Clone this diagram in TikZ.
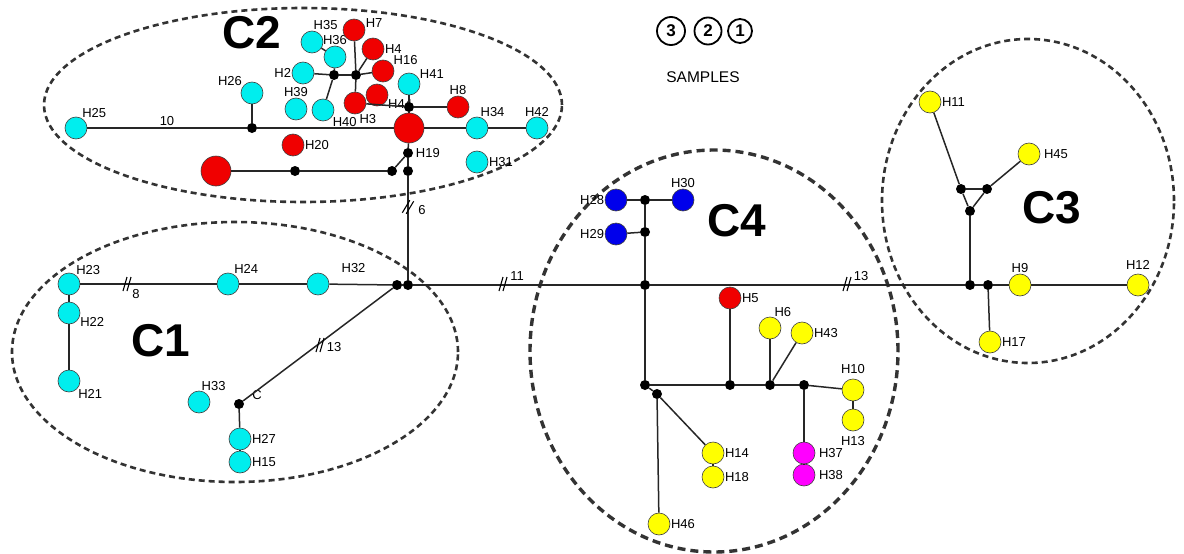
\documentclass[tikz,border=0pt]{standalone}
\usepackage{fontspec}
\setmainfont{Liberation Sans}
\definecolor{hcyan}{RGB}{0,238,238}
\definecolor{hred}{RGB}{240,0,0}
\definecolor{hblue}{RGB}{0,0,235}
\definecolor{hyellow}{RGB}{255,255,0}
\definecolor{hmag}{RGB}{255,0,255}
\begin{document}
\begin{tikzpicture}[x=1pt, y=-1pt,
    every edge/.style={draw=black!85, line width=1.5pt},
    hap/.style={circle, draw=black!75, line width=0.6pt, minimum size=22pt, inner sep=0pt},
    big/.style={hap, minimum size=30pt},
    jn/.style={circle, fill=black, minimum size=10pt, inner sep=0pt},
    lbl/.style={font=\fontsize{13}{13}\selectfont, inner sep=0.5pt},
    elbl/.style={font=\fontsize{13}{13}\selectfont, inner sep=0.5pt},
    grp/.style={draw=black!80, line width=2.6pt, dash pattern=on 6pt off 4pt},
    clu/.style={font=\fontsize{46}{46}\selectfont\bfseries, inner sep=0pt},
    smp/.style={circle, draw=black, line width=1.8pt, inner sep=0pt, font=\fontsize{17}{17}\selectfont\bfseries},
    brk/.pic={\draw[line width=1.1pt] (-4,7) -- (0,-7) (0,7) -- (4,-7);}
    ]
    \useasboundingbox (0,0) rectangle (1184,554);

    % groups
    \draw[grp] (303,105) ellipse [x radius=259pt, y radius=97pt];
    \draw[grp] (235,352) ellipse [x radius=223pt, y radius=130pt];
    \draw[grp] (1028,201) ellipse [x radius=146pt, y radius=162pt];
    \draw[grp, line width=3.4pt, dash pattern=on 8pt off 5pt] (714,351) ellipse [x radius=184pt, y radius=201pt];

    \node [clu] (c2) at (252,33) {C2};
    \node [clu] (c1) at (161,341) {C1};
    \node [clu] (c4) at (737,221) {C4};
    \node [clu] (c3) at (1052,208) {C3};

    % legend
    \node [smp, minimum size=28pt] (s3) at (671,31) {3};
    \node [smp, minimum size=27pt] (s2) at (708,31) {2};
    \node [smp, minimum size=24pt] (s1) at (740,31) {1};
    \node [font=\fontsize{15.5}{16}\selectfont] (smp) at (703,77) {SAMPLES};

    % C2
    \node [hap, fill=hcyan, label={[lbl]60:H25}] (h25) at (76,128) {};
    \node [jn] (j4) at (252,128) {};
    \node [hap, fill=hcyan, label={[lbl]146:H26}] (h26) at (252,93) {};
    \node [hap, fill=hcyan, label={[lbl]85:H35}] (h35) at (312,42) {};
    \node [hap, fill=hcyan, label={[lbl]90:H36}] (h36) at (335,57) {};
    \node [hap, fill=hred, label={[lbl]11:H7}] (h7) at (354,30) {};
    \node [hap, fill=hred, label={[lbl]0:H4}] (h4) at (373,49) {};
    \node [hap, fill=hcyan, label={[lbl]180:H2}] (h2) at (303,73) {};
    \node [jn] (j1) at (334,75) {};
    \node [jn] (j2) at (356,75) {};
    \node [hap, fill=hred, label={[lbl]28:H16}] (h16) at (383,71) {};
    \node [hap, fill=hcyan, label={[lbl]25:H41}] (h41) at (409,84) {};
    \node [hap, fill=hcyan, label={[lbl]90:H39}] (h39) at (296,109) {};
    \node [hap, fill=hcyan, label={[lbl]324:H40}] (h40) at (323,110) {};
    \node [hap, fill=hred, label={[lbl]338:H44}] (h44) at (377,95) {};
    \node [hap, fill=hred, label={[lbl]290:H3}] (h3) at (355,103) {};
    \node [jn] (j3) at (409,107) {};
    \node [hap, fill=hred, label={[lbl]90:H8}] (h8) at (458,107) {};
    \node [big, fill=hred] (r1) at (409,128) {};
    \node [hap, fill=hcyan, label={[lbl]75:H34}] (h34) at (477,128) {};
    \node [hap, fill=hcyan, label={[lbl]90:H42}] (h42) at (537,128) {};
    \node [hap, fill=hred, label={[lbl]0:H20}] (h20) at (293,145) {};
    \node [jn, label={[lbl,label distance=2pt]0:H19}] (j5) at (408,153) {};
    \node [hap, fill=hcyan, label={[lbl]0:H31}] (h31) at (477,162) {};
    \node [big, fill=hred] (r2) at (216,171) {};
    \node [jn] (j6) at (295,171) {};
    \node [jn] (j7) at (392,171) {};
    \node [jn] (j8) at (408,171) {};

    \draw (h25) edge (j4);
    \draw (j4) edge (r1);
    \draw (r1) edge (h34);
    \draw (h34) edge (h42);
    \draw (j4) edge (h26);
    \draw (r1) edge (j3);
    \draw (j3) edge (h41);
    \draw (j3) edge (h8);
    \draw (h3) edge (j3);
    \draw (j2) edge (h3);
    \draw (j2) edge (h7);
    \draw (j2) edge (h4);
    \draw (j2) edge (h16);
    \draw (j1) edge (j2);
    \draw (h2) edge (j1);
    \draw (j1) edge (h40);
    \draw (j1) edge (h36);
    \draw (h36) edge (h35);
    \draw (r1) edge (j5);
    \draw (j5) edge (j8);
    \draw (j5) edge (j7);
    \draw (j7) edge (j6);
    \draw (j6) edge (r2);
    \node [elbl] (m10) at (167,121) {10};

    % C1
    \node [hap, fill=hcyan, label={[lbl]54:H23}] (h23) at (69,284) {};
    \node [hap, fill=hcyan, label={[lbl]340:H22}] (h22) at (69,313) {};
    \node [hap, fill=hcyan, label={[lbl]320:H21}] (h21) at (69,381) {};
    \node [hap, fill=hcyan, label={[lbl]60:H24}] (h24) at (228,284) {};
    \node [hap, fill=hcyan, label={[lbl,label distance=14pt]25:H32}] (h32) at (318,284) {};
    \node [jn] (ja) at (397,285) {};
    \node [jn] (jb) at (408,285) {};
    \node [hap, fill=hcyan, label={[lbl]80:H33}] (h33) at (199,402) {};
    \node [jn, label={[lbl,label distance=8pt]15:C}] (jc) at (239,404) {};
    \node [hap, fill=hcyan, label={[lbl]0:H27}] (h27) at (240,439) {};
    \node [hap, fill=hcyan, label={[lbl]0:H15}] (h15) at (240,462) {};

    \draw (h23) edge (h22);
    \draw (h22) edge (h21);
    \draw (h23) edge (h24);
    \draw (h24) edge (h32);
    \draw (h32) edge (ja);
    \draw (ja) edge (jb);
    \draw (ja) edge (jc);
    \draw (jc) edge (h27);
    \draw (h27) edge (h15);
    \draw (jb) edge (j8);
    \pic at (127,284) {brk};
    \node [elbl] (m8) at (136,294) {8};
    \pic at (320,345) {brk};
    \node [elbl] (m13a) at (334,347) {13};
    \pic [rotate=-15] at (408,207) {brk};
    \node [elbl] (m6) at (422,210) {6};

    % C4
    \node [jn] (j9) at (645,200) {};
    \node [jn] (j10) at (645,232) {};
    \node [jn] (jm4) at (645,285) {};
    \node [hap, fill=hblue, label={[lbl]180:H28}] (h28) at (616,200) {};
    \node [hap, fill=hblue, label={[lbl]90:H30}] (h30) at (683,200) {};
    \node [hap, fill=hblue, label={[lbl]180:H29}] (h29) at (616,234) {};
    \node [hap, fill=hred, label={[lbl]0:H5}] (h5) at (730,298) {};
    \node [hap, fill=hyellow, label={[lbl]70:H6}] (h6) at (770,328) {};
    \node [hap, fill=hyellow, label={[lbl]0:H43}] (h43) at (802,333) {};
    \node [jn] (j11) at (645,385) {};
    \node [jn] (j12) at (657,394) {};
    \node [jn] (j14) at (730,385) {};
    \node [jn] (j15) at (770,385) {};
    \node [jn] (j16) at (804,385) {};
    \node [hap, fill=hyellow, label={[lbl,label distance=4pt]90:H10}] (h10) at (853,390) {};
    \node [hap, fill=hyellow, label={[lbl,label distance=4pt]270:H13}] (h13) at (853,420) {};
    \node [hap, fill=hyellow, label={[lbl]0:H14}] (h14) at (713,453) {};
    \node [hap, fill=hyellow, label={[lbl]0:H18}] (h18) at (713,477) {};
    \node [hap, fill=hmag, label={[lbl,label distance=3pt]0:H37}] (h37) at (804,453) {};
    \node [hap, fill=hmag, label={[lbl,label distance=3pt]0:H38}] (h38) at (804,475) {};
    \node [hap, fill=hyellow, label={[lbl]0:H46}] (h46) at (659,524) {};

    \draw (jb) edge (jm4);
    \draw (h28) edge (j9);
    \draw (j9) edge (h30);
    \draw (h29) edge (j10);
    \draw (j9) edge (j10);
    \draw (j10) edge (jm4);
    \draw (jm4) edge (j11);
    \draw (j11) edge (j14);
    \draw (j14) edge (j15);
    \draw (j15) edge (j16);
    \draw (j16) edge (h10);
    \draw (h10) edge (h13);
    \draw (j14) edge (h5);
    \draw (j15) edge (h6);
    \draw (j15) edge (h43);
    \draw (j16) edge (h37);
    \draw (h37) edge (h38);
    \draw (j11) edge (j12);
    \draw (j12) edge (h14);
    \draw (h14) edge (h18);
    \draw (j12) edge (h46);
    \pic at (503,284) {brk};
    \node [elbl] (m11) at (517,276) {11};

    % C3
    \node [hap, fill=hyellow, label={[lbl]0:H11}] (h11) at (930,102) {};
    \node [hap, fill=hyellow, label={[lbl,label distance=3pt]0:H45}] (h45) at (1029,154) {};
    \node [jn] (t1) at (961,189) {};
    \node [jn] (t2) at (987,189) {};
    \node [jn] (t3) at (970,211) {};
    \node [jn] (jm3) at (970,285) {};
    \node [jn] (jd) at (988,285) {};
    \node [hap, fill=hyellow, label={[lbl]90:H9}] (h9) at (1020,285) {};
    \node [hap, fill=hyellow, label={[lbl,label distance=4pt]90:H12}] (h12) at (1138,285) {};
    \node [hap, fill=hyellow, label={[lbl]0:H17}] (h17) at (990,342) {};

    \draw (jm4) edge (jm3);
    \draw (jm3) edge (jd);
    \draw (jd) edge (h9);
    \draw (h9) edge (h12);
    \draw (jd) edge (h17);
    \draw (jm3) edge (t3);
    \draw (t1) edge (t2);
    \draw (t1) edge (t3);
    \draw (t2) edge (t3);
    \draw (t1) edge (h11);
    \draw (t2) edge (h45);
    \pic at (847,284) {brk};
    \node [elbl] (m13b) at (861,276) {13};

\end{tikzpicture}
\end{document}
